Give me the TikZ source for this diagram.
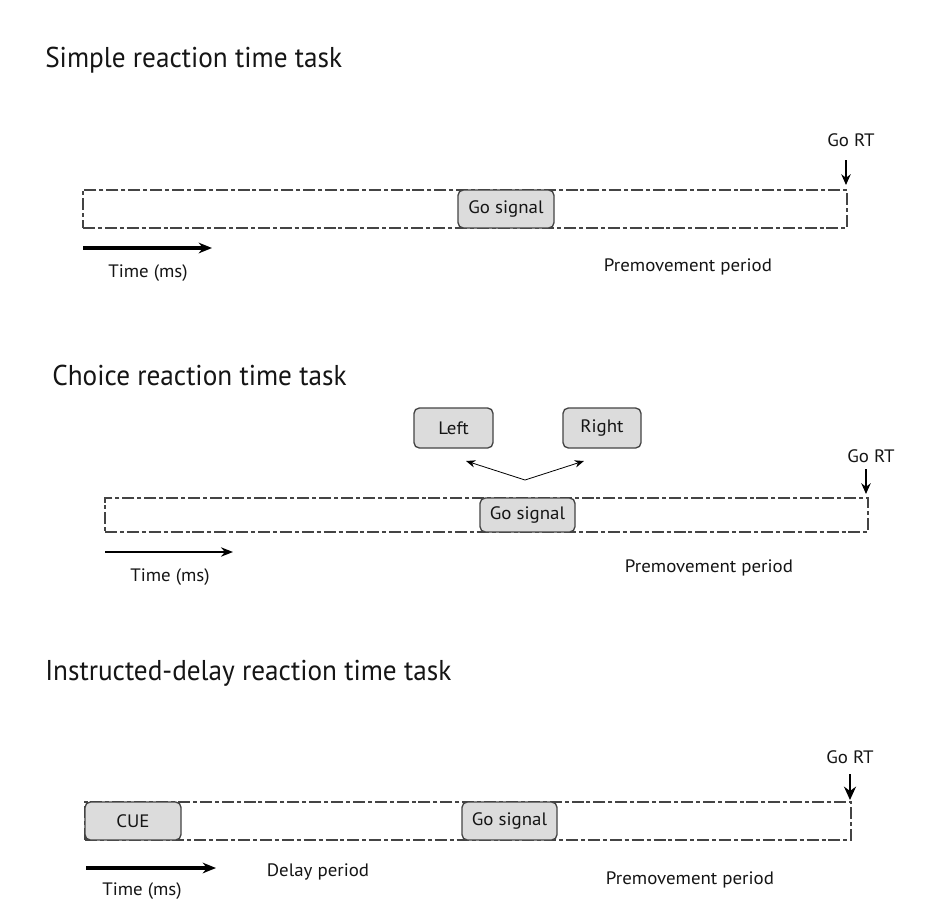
\documentclass[tikz,border=0pt]{standalone}
\usepackage{fontspec}
\setmainfont{PT Sans}
\newfontfamily\titlefont[FakeStretch=0.95]{PT Sans}
\newfontfamily\labelfont[FakeStretch=1.05]{PT Sans}
\usetikzlibrary{arrows.meta}
\definecolor{boxfill}{HTML}{DCDCDC}
\definecolor{boxline}{HTML}{444444}
\definecolor{txt}{HTML}{151515}
\begin{document}
\begin{tikzpicture}[x=0.75pt,y=-0.75pt,
  title/.style={anchor=base west,inner sep=0,font=\titlefont\fontsize{21.5}{24}\selectfont,text=txt},
  lbl/.style={inner sep=0,font=\labelfont\fontsize{13.5}{15}\selectfont,text=txt},
  dashbox/.style={draw=boxline,line width=1.2pt,dash pattern=on 9pt off 2.2pt on 3pt off 2.2pt,inner sep=0},
  sigbox/.style={draw=boxline,fill=boxfill,line width=1pt,rounded corners=4pt,inner sep=0,font=\labelfont\fontsize{13.5}{15}\selectfont,text=txt},
  timearrow/.style={line width=2.5pt,-{Stealth[length=10pt,width=8pt]}},
  timearrowthin/.style={line width=1.6pt,-{Stealth[length=9pt,width=7pt]}},
  rtarrow/.style={line width=1.4pt,-{Stealth[length=8pt,width=7pt]}},
  forkarrow/.style={line width=0.6pt,-{Stealth[length=7pt,width=5.5pt]}}]
\useasboundingbox (0,0) rectangle (933,918);
\fill[white] (0,0) rectangle (933,918);

% ---------- Panel 1 ----------
\node[title] (t1) at (45,67) {Simple reaction time task};
\node[dashbox,minimum width=573pt,minimum height=28.5pt] (bar1) at (465,209) {};
\node[sigbox,minimum width=72pt,minimum height=28.5pt] (go1) at (506,209) {Go signal};
\coordinate (ta1s) at (83,248);
\coordinate (ta1e) at (212,248);
\draw[timearrow] (ta1s) -- (ta1e);
\node[lbl] (time1) at (148,273) {Time (ms)};
\node[lbl] (rt1) at (851,140) {Go RT};
\coordinate (rt1s) at (846,160);
\coordinate (rt1e) at (846,185);
\draw[rtarrow] (rt1s) -- (rt1e);
\node[lbl] (pm1) at (688,267) {Premovement period};

% ---------- Panel 2 ----------
\node[title] (t2) at (52,385) {Choice reaction time task};
\node[sigbox,minimum width=59.25pt,minimum height=30pt] (left) at (453.5,428) {Left};
\node[sigbox,minimum width=58.5pt,minimum height=30pt] (right) at (602,428) {Right};
\node[dashbox,minimum width=572.25pt,minimum height=25.5pt] (bar2) at (486.5,515) {};
\node[sigbox,minimum width=71.25pt,minimum height=25.5pt] (go2) at (527.5,515) {Go signal};
\coordinate (fork) at (525,480);
\coordinate (forkL) at (466,461);
\coordinate (forkR) at (584,461);
\draw[forkarrow] (fork) -- (forkL);
\draw[forkarrow] (fork) -- (forkR);
\coordinate (ta2s) at (105,552);
\coordinate (ta2e) at (233,552);
\draw[timearrowthin] (ta2s) -- (ta2e);
\node[lbl] (time2) at (170,577) {Time (ms)};
\node[lbl] (rt2) at (871,456) {Go RT};
\coordinate (rt2s) at (866,469);
\coordinate (rt2e) at (866,494);
\draw[rtarrow] (rt2s) -- (rt2e);
\node[lbl] (pm2) at (709,568) {Premovement period};

% ---------- Panel 3 ----------
\node[title] (t3) at (45,680) {Instructed-delay reaction time task};
\node[dashbox,minimum width=574.5pt,minimum height=28.5pt] (bar3) at (468,821) {};
\node[sigbox,minimum width=72pt,minimum height=28.5pt] (cue) at (133,821) {CUE};
\node[sigbox,minimum width=71.25pt,minimum height=28.5pt] (go3) at (509.5,821) {Go signal};
\coordinate (ta3s) at (86,868);
\coordinate (ta3e) at (216,868);
\draw[timearrow] (ta3s) -- (ta3e);
\node[lbl] (time3) at (142,891) {Time (ms)};
\node[lbl] (delay) at (318,872) {Delay period};
\node[lbl] (rt3) at (850,757) {Go RT};
\coordinate (rt3s) at (850,774);
\coordinate (rt3e) at (850,800);
\draw[rtarrow,line width=2.2pt,-{Stealth[length=10pt,width=9pt]}] (rt3s) -- (rt3e);
\node[lbl] (pm3) at (690,880) {Premovement period};
\end{tikzpicture}
\end{document}
